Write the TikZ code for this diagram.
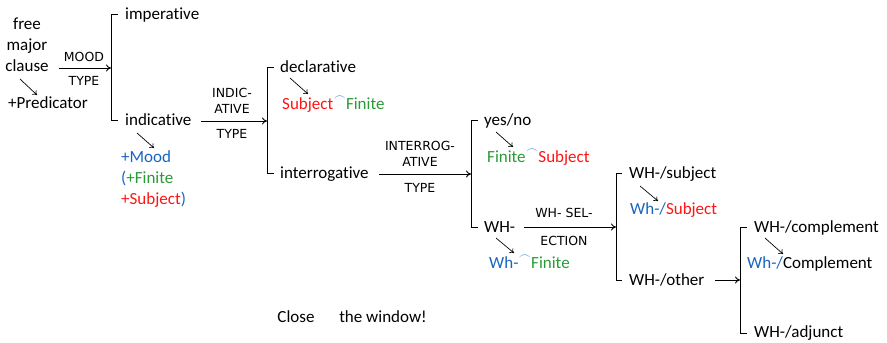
\documentclass[tikz,border=0pt]{standalone}
\usetikzlibrary{arrows.meta}
\usepackage{fontspec}
\setmainfont{Carlito}[Ligatures=NoCommon]
\newfontfamily\capsfont{DejaVu Sans}
\definecolor{cred}{RGB}{255,20,20}
\definecolor{cgreen}{RGB}{40,155,55}
\definecolor{cblue}{RGB}{25,100,190}
\newcommand{\concat}{\kern0.5pt\textcolor{cblue}{\raisebox{1.0ex}{\fontsize{12}{12}\selectfont$\frown$}}\kern0.5pt}
\begin{document}
\begin{tikzpicture}[x=1pt,y=-1pt,
  txt/.style={font=\fontsize{17}{19}\selectfont, inner sep=0pt, anchor=west, text height=10.5pt, text depth=0.5pt},
  ctxt/.style={font=\fontsize{17}{19}\selectfont, inner sep=0pt, text height=10.5pt, text depth=0.5pt},
  lab/.style={font=\capsfont\fontsize{12.5}{14}\selectfont, inner sep=0pt},
  sys/.style={line width=0.9pt, -{To[length=5pt,width=7pt]}},
  brk/.style={line width=0.9pt},
  pt/.style={line width=0.7pt, -{To[length=4pt,width=6pt]}}]
\useasboundingbox (0,0) rectangle (887,343);
% first system
\node[ctxt] (free) at (27,24) {free};
\node[ctxt] (major) at (27,45) {major};
\node[ctxt] (clause) at (27,66) {clause};
\node[ctxt] (pred) at (48,103) {+Predicator};
\coordinate (p1a) at (20,79); \coordinate (p1b) at (37,95);
\draw[pt] (p1a) -- (p1b);
\coordinate (s1a) at (59,68); \coordinate (s1b) at (111,68);
\draw[sys] (s1a) -- (s1b);
\node[lab] (l1a) at (84,57) {MOOD};
\node[lab] (l1b) at (84,81) {TYPE};
\coordinate (b1t) at (118,14); \coordinate (b1b) at (118,120);
\draw[brk] (b1t) -- (111,14) -- (111,120) -- (b1b);
\node[txt] (imp) at (125,14) {imperative};
\node[txt] (ind) at (125,120) {indicative};
\coordinate (p2a) at (137,133); \coordinate (p2b) at (154,148);
\draw[pt] (p2a) -- (p2b);
\node[txt] (mood) at (121,157) {\textcolor{cblue}{+Mood}};
\node[txt] (fin) at (121,178) {\textcolor{cblue}{(}\textcolor{cgreen}{+Finite}};
\node[txt] (subj) at (121,199) {\textcolor{cred}{+Subject}\textcolor{cblue}{)}};
% second system
\coordinate (s2a) at (201,121); \coordinate (s2b) at (267,121);
\draw[sys] (s2a) -- (s2b);
\node[lab] (l2a) at (232,93) {INDIC-};
\node[lab] (l2b) at (232,109) {ATIVE};
\node[lab] (l2c) at (232,134) {TYPE};
\draw[brk] (274,67) -- (267,67) -- (267,173) -- (274,173);
\node[txt] (decl) at (280,67) {declarative};
\node[txt] (inter) at (280,173) {interrogative};
\coordinate (p3a) at (290,78); \coordinate (p3b) at (308,94);
\draw[pt] (p3a) -- (p3b);
\node[txt] (sf) at (282,104) {\textcolor{cred}{Subject}\concat\textcolor{cgreen}{Finite}};
% third system
\coordinate (s3a) at (379,174); \coordinate (s3b) at (471,174);
\draw[sys] (s3a) -- (s3b);
\node[lab] (l3a) at (420,146) {INTERROG-};
\node[lab] (l3b) at (420,162) {ATIVE};
\node[lab] (l3c) at (420,188) {TYPE};
\draw[brk] (478,120) -- (471,120) -- (471,227) -- (478,227);
\node[txt] (yn) at (484,120) {yes/no};
\node[txt] (wh) at (484,227) {WH-};
\coordinate (p4a) at (496,132); \coordinate (p4b) at (513,147);
\draw[pt] (p4a) -- (p4b);
\node[txt] (fs) at (487,157) {\textcolor{cgreen}{Finite}\concat\textcolor{cred}{Subject}};
\coordinate (p5a) at (496,238); \coordinate (p5b) at (514,253);
\draw[pt] (p5a) -- (p5b);
\node[txt] (whf) at (489,263) {\textcolor{cblue}{Wh-}\concat\textcolor{cgreen}{Finite}};
% fourth system
\coordinate (s4a) at (524,227); \coordinate (s4b) at (616,227);
\draw[sys] (s4a) -- (s4b);
\node[lab] (l4a) at (564,213) {WH- SEL-};
\node[lab] (l4b) at (564,241) {ECTION};
\draw[brk] (622,173) -- (616,173) -- (616,280) -- (622,280);
\node[txt] (whs) at (629,173) {WH-/subject};
\node[txt] (who) at (629,280) {WH-/other};
\coordinate (p6a) at (640,186); \coordinate (p6b) at (658,201);
\draw[pt] (p6a) -- (p6b);
\node[txt] (whsub) at (630,209) {\textcolor{cblue}{Wh-/}\textcolor{cred}{Subject}};
% fifth system
\coordinate (s5a) at (715,280); \coordinate (s5b) at (740,280);
\draw[sys] (s5a) -- (s5b);
\draw[brk] (747,227) -- (740,227) -- (740,333) -- (747,333);
\node[txt] (whc) at (754,227) {WH-/complement};
\node[txt] (wha) at (754,332) {WH-/adjunct};
\coordinate (p7a) at (765,238); \coordinate (p7b) at (783,254);
\draw[pt] (p7a) -- (p7b);
\node[txt] (whcomp) at (747,263) {\textcolor{cblue}{Wh-/}Complement};
% example
\node[ctxt] (close) at (296,317) {Close};
\node[ctxt] (win) at (383,317) {the window!};
\end{tikzpicture}
\end{document}
